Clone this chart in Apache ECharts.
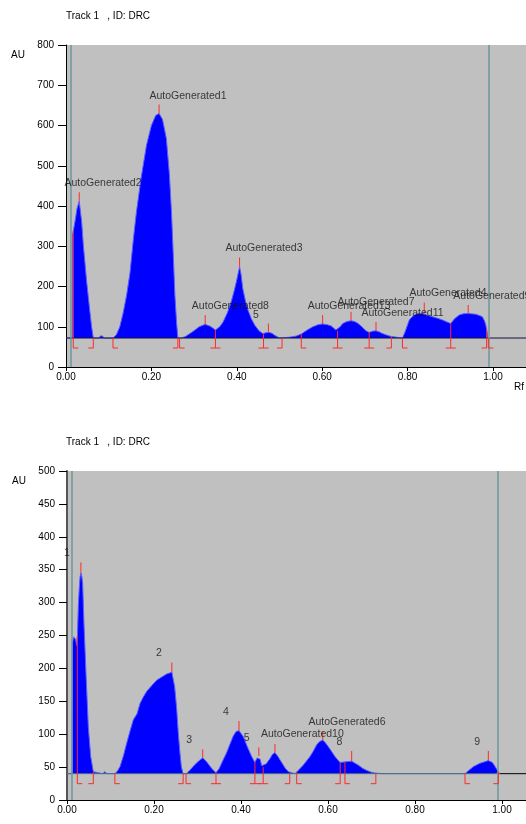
<!DOCTYPE html>
<html><head><meta charset="utf-8">
<script src="https://cdn.jsdelivr.net/npm/echarts@6/dist/echarts.min.js"></script>
<style>html,body{margin:0;padding:0;background:#fff}#c{width:526px;height:824px}</style>
</head><body><div id="c"></div>
<script>
// ---------- TOP TRACK ----------
const topBase = 72;
const topTeal = [0.0124, 0.991];
const topRf = [0.000,0.0150,0.0155,0.021,0.0258,0.031,0.0367,0.0406,0.0484,0.056,0.060,0.064,0.078,0.080,0.083,0.086,0.088,
 0.110,0.118,0.126,0.134,0.142,0.150,0.158,0.165,0.176,0.1885,0.200,0.210,0.218,0.226,0.235,0.242,0.247,0.251,0.255,0.259,0.262,0.270,
 0.280,0.297,0.312,0.326,0.338,0.350,
 0.360,0.368,0.378,0.387,0.394,0.399,0.4065,0.410,0.414,0.420,0.426,0.434,0.442,0.452,0.461,0.468,0.475,0.482,0.490,0.500,0.510,0.523,0.539,0.551,
 0.565,0.578,0.590,0.601,0.612,0.621,0.632,0.636,
 0.642,0.648,0.658,0.6675,0.676,0.683,0.693,0.7025,0.710,
 0.718,0.726,0.734,0.741,0.752,0.761,0.765,0.788,
 0.795,0.804,0.812,0.819,0.827,0.835,0.845,0.858,0.870,0.8815,0.892,0.901,0.910,0.9206,0.930,0.940,0.950,0.9595,0.968,0.975,0.980,0.983,0.986,0.9875];
const topAU = [72,72,328,361,394,412,361,303,212,137,100,72,72,77,78,77,72,
 72,80,100,135,179,235,320,386,470,551,600,625,630,615,568,480,386,285,179,110,72,72,
 76,88,100,106,101,92,
 100,112,135,162,190,212,249,230,195,165,142,120,104,90,83,85,86,84,78,72,73,74,77,82,
 92,100,105,107,105,102,92,90,
 100,108,113,115,113,109,100,90,86,
 89,90,87,83,79,76,72,72,
 90,117,126,131,133,133,129,125,121,117,112,108,120,129,132,133,132,131,128,125,115,105,88,72];
const topPeakRf  = [0.031,0.218,0.326,0.4065,0.474,0.601,0.6675,0.726,0.839,0.942];
const topPeakAU  = [412,630,106,249,86,107,115,90,133,133];
const topPeakTop = [434,652,129,272,108,129,137,112,160,154];
const topBrRf   = [0.017,0.064,0.110,0.262,0.266,0.350,0.4626,0.506,0.551,0.636,0.710,0.762,0.788,0.901,0.985,0.989];
const topBrKind = ['L','J','L','J','L','T','T','J','L','T','T','J','L','T','J','L'];
const topLblText = ['AutoGenerated2','AutoGenerated1','AutoGenerated3','AutoGenerated8','5','AutoGenerated13','AutoGenerated7','AutoGenerated11','AutoGenerated4','AutoGenerated9'];
const topLblRf   = [0.0867,0.2857,0.4637,0.385,0.445,0.663,0.726,0.788,0.8946,0.907];
const topLblAU   = [457,674,296,151.5,130,151.5,161,133,184.6,176];
const topLblAlign= ['center','center','center','center','center','center','center','center','center','left'];

// ---------- BOTTOM TRACK ----------
const botBase = 40;
const botTeal = [0.012, 0.995];
const botRf = [0.000,0.012,0.0125,0.015,0.0177,0.020,0.022,0.024,0.026,0.028,0.030,0.032,0.034,0.036,0.039,0.0437,0.049,0.0545,0.0605,0.064,
 0.082,0.084,0.087,0.090,0.092,0.110,
 0.116,0.122,0.130,0.137,0.145,0.1525,0.161,0.168,0.175,0.183,0.195,0.206,0.218,0.229,0.236,0.241,0.2445,0.2475,0.252,0.256,0.2598,0.263,0.267,0.274,
 0.282,0.290,0.302,0.312,0.321,0.3326,0.3425,
 0.350,0.359,0.367,0.3747,0.382,0.3885,0.3954,0.4054,0.4145,0.4245,0.432,
 0.437,0.440,0.444,0.4476,0.451,
 0.458,0.4667,0.472,0.478,0.485,0.4935,0.502,0.509,0.512,0.524,
 0.533,0.543,0.5586,0.566,0.574,0.581,0.588,0.594,0.6008,0.608,0.616,0.6276,0.6305,
 0.640,0.6544,0.662,0.6697,0.680,0.689,0.700,0.708,0.712,
 0.724,0.727,0.730,0.758,0.7617,0.765,0.797,0.800,0.803,0.812,0.815,0.818,0.846,0.850,0.854,0.880,0.884,0.888,0.915,
 0.922,0.934,0.949,0.960,0.9686,0.971,0.978,0.984,0.9916,0.994];
const botAU = [40,40,238,248,250,244,235,250,294,320,339,345,340,329,268,192,111,66,43,40,
 40,43,43,43,40,40,
 44,51,68,86,105,122,131,147,156,165,174,182,187,191.5,193,194.5,193,172,140,100,71,50,40,40,
 45,51,59,64,58,48,41.5,
 48,61,72,85,97,104,105.5,96,81,66,57,
 64,67,62,52,50,
 55,63,69,72,66,57,48,43,40,40,
 46,53,66,74,84,89,91,87,81,74,66,57,56,
 58,59,56,53,48,45,42,41,40,
 40,42,40,40,42.5,40,40,42,40,40,42,40,40,42,40,40,42,40,40,
 44,50.7,55.7,58,60,61,57,51,42.6,40];
const botPeakRf  = [0.032,0.241,0.312,0.3954,0.441,0.478,0.588,0.6544,0.9686];
const botPeakAU  = [345,194.5,64,105.5,67,72,91,59,60];
const botPeakTop = [361,209,77,120,80,85,104,74.5,74.5];
const botBrRf   = [0.0237,0.0605,0.110,0.267,0.2736,0.3425,0.432,0.451,0.512,0.528,0.628,0.639,0.710,0.915,0.9916];
const botBrKind = ['L','J','L','J','L','T','T','T','J','L','J','L','J','L','J'];
const botLblText = ['1','2','3','4','5','AutoGenerated10','AutoGenerated6','8','9'];
const botLblRf   = [0.0,0.2115,0.281,0.3655,0.413,0.541,0.6437,0.626,0.943];
const botLblAU   = [375,223,91,134,94.7,100,118.5,88.6,88.6];
const botLblAlign= ['center','center','center','center','center','center','center','center','center'];

// ---------- helpers ----------
const FONT = '"Liberation Sans", Arial, sans-serif';
const TOP_XMAX = 460/427, BOT_XMAX = 459/435;
const zip = (a,b) => a.map((v,i)=>[v,b[i]]);
function curveAt(rf, xs, ys){
  for (let i=1;i<xs.length;i++){
    if (xs[i] >= rf){ const t=(rf-xs[i-1])/(xs[i]-xs[i-1]||1); return ys[i-1]+t*(ys[i]-ys[i-1]); }
  }
  return ys[ys.length-1];
}
function areaSeries(gi, xs, ys, base, teal){
  return {type:'line', xAxisIndex:gi, yAxisIndex:gi, data:zip(xs,ys), symbol:'none', showSymbol:false,
    lineStyle:{color:'#5c5cff', width:1}, areaStyle:{color:'#0000ff', opacity:1, origin: base},
    z:3, silent:true, animation:false, clip:true,
    markLine:{symbol:'none', silent:true, animation:false, label:{show:false},
      data:[
        {xAxis:teal[0], lineStyle:{color:'#6b9999', width:1.5, type:'solid'}},
        {xAxis:teal[1], lineStyle:{color:'#6b9999', width:1.5, type:'solid'}}
      ]}
  };
}
function baseSeries(gi, x0, x1, base, color){
  return {type:'line', xAxisIndex:gi, yAxisIndex:gi, data:[[x0,base],[x1,base]], symbol:'none', showSymbol:false,
    lineStyle:{color:color, width:1}, z:4, silent:true, animation:false};
}
function peakSeries(gi, rf, au, top){
  return {type:'custom', xAxisIndex:gi, yAxisIndex:gi, z:5, silent:true, animation:false, clip:false,
    data: rf.map((r,i)=>[r, au[i], top[i]]),
    renderItem:(p,api)=>{
      const a=api.coord([api.value(0),api.value(1)]), b=api.coord([api.value(0),api.value(2)]);
      return {type:'line', shape:{x1:a[0],y1:a[1],x2:b[0],y2:b[1]}, style:{stroke:'#ff2a2a', lineWidth:1}};
    }};
}
function bracketSeries(gi, rf, kind, xs, ys, base){
  return {type:'custom', xAxisIndex:gi, yAxisIndex:gi, z:5, silent:true, animation:false, clip:false,
    data: rf.map((r,i)=>[r, base, Math.max(base, curveAt(r,xs,ys)), i]),
    renderItem:(p,api)=>{
      const r=api.value(0), k=kind[api.value(3)];
      const b=api.coord([r, api.value(1)]), t=api.coord([r, api.value(2)]);
      const x=b[0], y2=b[1]+10, w=5;
      const st={stroke:'#ff2a2a', lineWidth:1, fill:null};
      const ch=[{type:'line', shape:{x1:x,y1:t[1],x2:x,y2:y2}, style:st}];
      if (k==='L' || k==='T') ch.push({type:'line', shape:{x1:x,y1:y2,x2:x+w,y2:y2}, style:st});
      if (k==='J' || k==='T') ch.push({type:'line', shape:{x1:x-w,y1:y2,x2:x,y2:y2}, style:st});
      return {type:'group', children:ch};
    }};
}
function labelSeries(gi, txt, rf, au, align){
  return {type:'scatter', xAxisIndex:gi, yAxisIndex:gi, symbolSize:0, z:6, silent:true, animation:false, clip:false,
    data: rf.map((r,i)=>({value:[r,au[i]], label:{show:true, formatter:txt[i], position:[0,0], align:align[i], verticalAlign:'middle',
      color:'#111', fontSize:10.5, fontFamily:FONT}}))};
}
function xAx(gi, max){
  return {type:'value', gridIndex:gi, min:0, max:max, interval:0.2,
    axisLine:{show:true, onZero:false, lineStyle:{color:'#000', width:1}},
    axisTick:{show:true, length:4, lineStyle:{color:'#000'}},
    axisLabel:{formatter:v=>v.toFixed(2), fontSize:10, color:'#000', fontFamily:FONT, margin:5, showMaxLabel:false},
    splitLine:{show:false}};
}
function yAx(gi, max, interval, lineColor, lineWidth){
  return {type:'value', gridIndex:gi, min:0, max:max, interval:interval,
    axisLine:{show:true, lineStyle:{color:lineColor, width:lineWidth}},
    axisTick:{show:true, length:8, lineStyle:{color:'#000'}},
    axisLabel:{fontSize:10, color:'#000', fontFamily:FONT, margin:12},
    splitLine:{show:false}};
}
const ts = {fontSize:10, fontWeight:'normal', color:'#000', fontFamily:FONT};
const option = {
  backgroundColor:'#fff', animation:false,
  title:[
    {text:'Track 1   , ID: DRC', left:66, top:11, textStyle:ts, padding:0},
    {text:'AU', left:11, top:50, textStyle:ts, padding:0},
    {text:'Rf', left:514, top:382, textStyle:ts, padding:0},
    {text:'Track 1   , ID: DRC', left:66, top:437, textStyle:ts, padding:0},
    {text:'AU', left:12, top:476, textStyle:ts, padding:0}
  ],
  grid:[
    {left:66, top:45, width:460, height:322, show:true, backgroundColor:'#c0c0c0', borderWidth:0},
    {left:67, top:471, width:459, height:329, show:true, backgroundColor:'#c0c0c0', borderWidth:0}
  ],
  xAxis:[xAx(0, TOP_XMAX), xAx(1, BOT_XMAX)],
  yAxis:[yAx(0, 800, 100, '#000', 1), yAx(1, 500, 50, '#555', 2)],
  series:[
    areaSeries(0, topRf, topAU, topBase, topTeal),
    baseSeries(0, 0, TOP_XMAX, topBase, '#15153a'),
    peakSeries(0, topPeakRf, topPeakAU, topPeakTop),
    bracketSeries(0, topBrRf, topBrKind, topRf, topAU, topBase),
    labelSeries(0, topLblText, topLblRf, topLblAU, topLblAlign),
    areaSeries(1, botRf, botAU, botBase, botTeal),
    baseSeries(1, 0, botTeal[1], botBase, '#4a7373'),
    baseSeries(1, botTeal[1], BOT_XMAX, botBase, '#000'),
    peakSeries(1, botPeakRf, botPeakAU, botPeakTop),
    bracketSeries(1, botBrRf, botBrKind, botRf, botAU, botBase),
    labelSeries(1, botLblText, botLblRf, botLblAU, botLblAlign)
  ]
};
const chart = echarts.init(document.getElementById('c'), null, {renderer:'canvas'});
chart.setOption(option);
</script></body></html>
